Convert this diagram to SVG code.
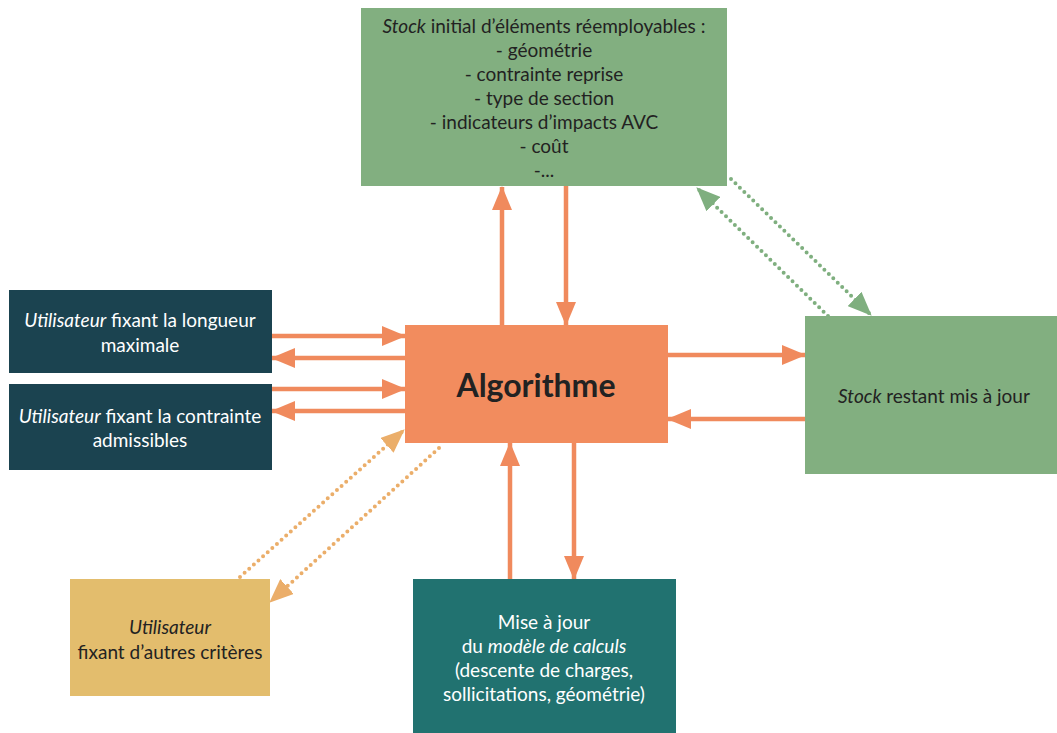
<svg xmlns="http://www.w3.org/2000/svg" width="1057" height="733" viewBox="0 0 1057 733">
<defs>
<style>
text{font-family:Lato,"Open Sans","Liberation Sans",sans-serif;font-size:19px;text-anchor:middle}
.dk{fill:#222}
.wh{fill:#fff}
.it{font-style:italic}
.solid{stroke:#F08A5D;stroke-width:4.5;fill:none}
.dotO{stroke:#EBAE6A;stroke-width:4;stroke-linecap:round;stroke-dasharray:0 6.2;fill:none}
.dotG{stroke:#7FAF7F;stroke-width:4;stroke-linecap:round;stroke-dasharray:0 6.2;fill:none}
</style>
<marker id="ah" markerUnits="userSpaceOnUse" markerWidth="24" markerHeight="20" viewBox="0 0 24 20" refX="23" refY="10" orient="auto"><path d="M0,0 L24,10 L0,20 z" fill="#F08A5D"/></marker>
<marker id="ahO" markerUnits="userSpaceOnUse" markerWidth="24" markerHeight="20" viewBox="0 0 24 20" refX="23" refY="10" orient="auto"><path d="M0,0 L24,10 L0,20 z" fill="#EBAE6A"/></marker>
<marker id="ahG" markerUnits="userSpaceOnUse" markerWidth="24" markerHeight="20" viewBox="0 0 24 20" refX="23" refY="10" orient="auto"><path d="M0,0 L24,10 L0,20 z" fill="#7FAF7F"/></marker>
</defs>
<rect width="1057" height="733" fill="#fff"/>
<g id="connectors">
<line class="solid" x1="502" y1="325" x2="502" y2="187" marker-end="url(#ah)"/>
<line class="solid" x1="566" y1="186" x2="566" y2="325" marker-end="url(#ah)"/>
<line class="solid" x1="272" y1="336" x2="405" y2="336" marker-end="url(#ah)"/>
<line class="solid" x1="405" y1="358" x2="272" y2="358" marker-end="url(#ah)"/>
<line class="solid" x1="272" y1="389" x2="405" y2="389" marker-end="url(#ah)"/>
<line class="solid" x1="405" y1="411" x2="272" y2="411" marker-end="url(#ah)"/>
<line class="solid" x1="668" y1="355" x2="805" y2="355" marker-end="url(#ah)"/>
<line class="solid" x1="805" y1="419" x2="668" y2="419" marker-end="url(#ah)"/>
<line class="solid" x1="510" y1="579" x2="510" y2="443" marker-end="url(#ah)"/>
<line class="solid" x1="574" y1="443" x2="574" y2="579" marker-end="url(#ah)"/>
<line class="dotO" x1="240" y1="577" x2="404" y2="430" marker-end="url(#ahO)"/>
<line class="dotO" x1="439" y1="448" x2="270" y2="602" marker-end="url(#ahO)"/>
<line class="dotG" x1="731" y1="179" x2="871" y2="315" marker-end="url(#ahG)"/>
<line class="dotG" x1="828" y1="316" x2="697" y2="188" marker-end="url(#ahG)"/>
</g>
<g id="stock-initial">
<rect x="361" y="8" width="366" height="178" fill="#82AF80"/>
<text class="dk" x="544" y="33"><tspan class="it">Stock</tspan> initial d’éléments réemployables :</text>
<text class="dk" x="544" y="57">- géométrie</text>
<text class="dk" x="544" y="81">- contrainte reprise</text>
<text class="dk" x="544" y="105">- type de section</text>
<text class="dk" x="544" y="129">- indicateurs d’impacts AVC</text>
<text class="dk" x="544" y="153">- coût</text>
<text class="dk" x="544" y="177">-...</text>
</g>
<g id="algorithme">
<rect x="405" y="325" width="263" height="118" fill="#F28C5E"/>
<text class="dk" x="536" y="397" style="font-size:32px;font-weight:bold">Algorithme</text>
</g>
<g id="user-longueur">
<rect x="9" y="290" width="263" height="83" fill="#1B4350"/>
<text class="wh" x="140" y="327"><tspan class="it">Utilisateur</tspan> fixant la longueur</text>
<text class="wh" x="140" y="352">maximale</text>
</g>
<g id="user-contrainte">
<rect x="9" y="384" width="263" height="86" fill="#1B4350"/>
<text class="wh" x="140" y="423"><tspan class="it">Utilisateur</tspan> fixant la contrainte</text>
<text class="wh" x="140" y="447">admissibles</text>
</g>
<g id="stock-restant">
<rect x="805" y="316" width="252" height="158" fill="#82AF80"/>
<text class="dk" x="934" y="403"><tspan class="it">Stock</tspan> restant mis à jour</text>
</g>
<g id="user-autres">
<rect x="70" y="579" width="200" height="117" fill="#E3BD6D"/>
<text class="dk it" x="170" y="634">Utilisateur</text>
<text class="dk" x="170" y="659">fixant d’autres critères</text>
</g>
<g id="modele-calculs">
<rect x="413" y="579" width="263" height="154" fill="#217270"/>
<text class="wh" x="544" y="629">Mise à jour</text>
<text class="wh" x="544" y="653">du <tspan class="it">modèle de calculs</tspan></text>
<text class="wh" x="544" y="677">(descente de charges,</text>
<text class="wh" x="544" y="701">sollicitations, géométrie)</text>
</g>
</svg>
